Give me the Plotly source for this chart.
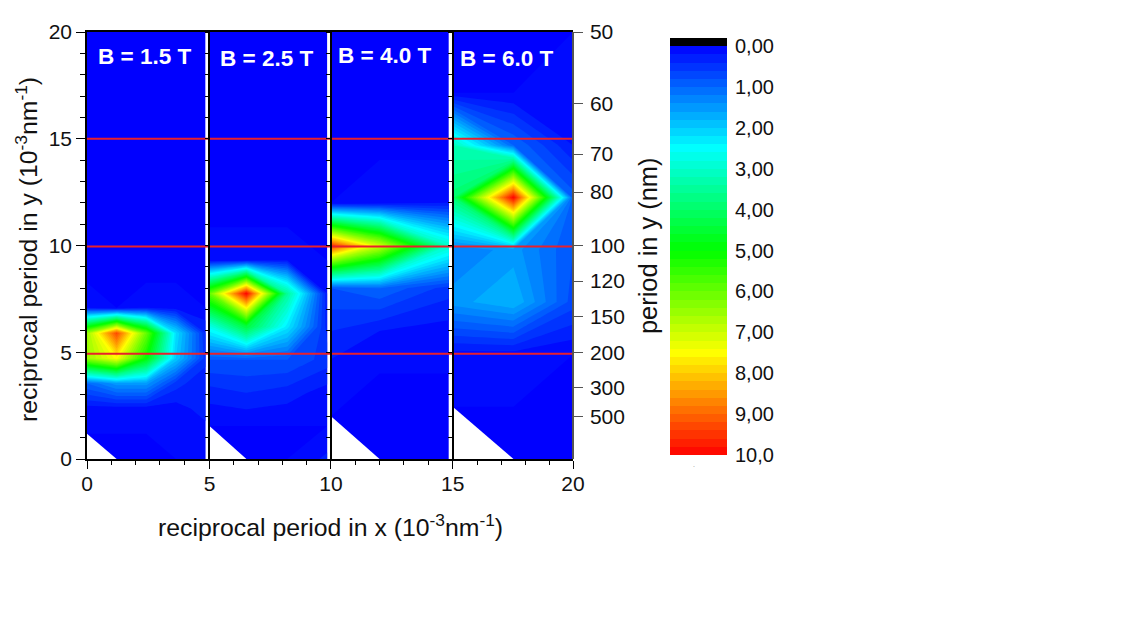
import numpy as np
import plotly.graph_objects as go

# Field values and panel labels
fields = ['B = 1.5 T', 'B = 2.5 T', 'B = 4.0 T', 'B = 6.0 T']

# Panel 1 (B = 1.5 T)
x1 = [0, 1.22, 2.44, 3.66, 4.88]
y1 = [0, 1.18, 2.36, 3.54, 4.72, 5.9, 7.08, 8.26, 20]
z1 = [
    [0, 0, 0, 0, 0],
    [0, 0, 0, 0.1, 0.1],
    [0.1, 0.1, 0.1, 0.1, 0.3],
    [1.0, 1.5, 1.5, 0.5, 0.2],
    [6.5, 7.5, 5.0, 2.0, 0.5],
    [6.5, 9.3, 6.0, 2.2, 0.4],
    [0.2, 0, 0.2, 0.1, 0],
    [0, 0, 0, 0, 0],
    [0, 0, 0, 0, 0],
]

# Panel 2 (B = 2.5 T)
x2 = [5.04, 6.56, 8.24, 9.89]
y2 = [0, 1.55, 3.1, 4.65, 6.2, 7.75, 9.3, 10.85, 20]
z2 = [
    [0, 0, 0, 0.25],
    [0, 0, 0, 0],
    [0.3, 0.4, 0.3, 0.1],
    [0.8, 0.8, 0.8, 0.5],
    [2.7, 4.4, 2.3, 0.3],
    [6.0, 10.0, 3.5, 0.2],
    [0.1, 0.2, 0.2, 0],
    [0, 0, 0, 0],
    [0, 0, 0, 0],
]

# Panel 3 (B = 4.0 T)
x3 = [10.04, 12.04, 14.89]
y3 = [0, 2, 4, 6, 8, 10, 12, 14, 20]
z3 = [
    [0, 0, 0],
    [0, 0, 0],
    [0.1, 0, 0],
    [0.4, 0.2, 0.1],
    [0.8, 1.0, 0.5],
    [9.5, 7.0, 3.0],
    [0, 0.1, 0.2],
    [0, 0, 0],
    [0, 0, 0],
]

# Panel 4 (B = 6.0 T)
x4 = [15.05, 17.55, 20.0]
y4 = [0, 2.45, 4.9, 7.35, 9.8, 12.25, 14.7, 17.15, 20]
z4 = [
    [0, 0, 0],
    [0, 0, 0],
    [0.1, 0.1, 0],
    [1.5, 1.8, 0.7],
    [1.2, 1.5, 0.8],
    [3.9, 10.0, 0.9],
    [3.2, 1.0, 0.2],
    [0, 0, 0.2],
    [0, 0, 0],
]

panels = [(x1, y1, z1), (x2, y2, z2), (x3, y3, z3), (x4, y4, z4)]

# Axis ticks
x_ticks = [0, 5.04, 10.04, 15.05, 20]
x_tick_labels = ['0', '5', '10', '15', '20']
x_minor = [1, 2, 3, 4, 6.04, 7.04, 8.04, 9.04, 11.04, 12.04, 13.04, 14.04, 16.05, 17.05, 18.05, 19.05]
periods = [50, 60, 70, 80, 100, 120, 150, 200, 300, 500]
red_levels = [4.93, 9.95, 15.0]

# Colour scale: blue, cyan, green, yellow, red over 0-10, in bands of 0.2
colors = [[0, 'rgb(0,0,255)'], [0.25, 'rgb(0,255,255)'], [0.5, 'rgb(0,255,0)'],
          [0.75, 'rgb(255,255,0)'], [1, 'rgb(255,0,0)']]
bar_ticks = [0, 1, 2, 3, 4, 5, 6, 7, 8, 9, 10]
bar_labels = ['0,00', '1,00', '2,00', '3,00', '4,00', '5,00', '6,00', '7,00', '8,00', '9,00', '10,0']
bar_bands = np.arange(-0.1, 10, 0.2)

# Page size and plot area in pixels
W, H = 1136, 627
dx = [87 / W, 573 / W]
dy = [1 - 459 / H, 1 - 32 / H]
FONT = 'Liberation Sans'
TEXT = '#111111'


def xpos(v):
    return dx[0] + (dx[1] - dx[0]) * v / 20


fig = go.Figure()

# One contour per panel, each on its own y axis
axis_names = ['y', 'y2', 'y3', 'y4']
for (px, py, pz), ax in zip(panels, axis_names):
    fig.add_trace(go.Contour(
        x=px, y=py, z=pz, xaxis='x', yaxis=ax,
        colorscale=colors, zmin=0, zmax=10, showscale=False,
        autocontour=False,
        contours=dict(start=0, end=10, size=0.2, coloring='fill', showlines=False),
        line=dict(width=0, smoothing=0),
    ))
    # Missing corner point leaves a white triangle
    fig.add_trace(go.Scatter(
        x=[px[0], px[1], px[0], px[0]], y=[0, 0, py[1], 0], xaxis='x', yaxis=ax,
        mode='lines', fill='toself', fillcolor='white', line=dict(width=0),
        showlegend=False, hoverinfo='skip',
    ))

# Red guide lines, on the period axis
line_x, line_y = [], []
for level in red_levels:
    line_x += [0, 20.12, None]
    line_y += [level, level, None]
fig.add_trace(go.Scatter(
    x=line_x, y=line_y, xaxis='x', yaxis='y5', mode='lines', cliponaxis=False,
    line=dict(color='rgb(232,32,44)', width=2), showlegend=False, hoverinfo='skip',
))

# Colour bar drawn as a one column heatmap, black band above zero
fig.add_trace(go.Heatmap(
    x=[0], y=bar_bands, z=[[v] for v in bar_bands], xaxis='x2', yaxis='y6',
    zmin=-0.2, zmax=10, showscale=False,
    colorscale=[[0, 'black'], [0.0196, 'black'], [0.0197, 'rgb(0,0,255)'], [0.0196 + 0.98 * 0.25, 'rgb(0,255,255)'],
                [0.0196 + 0.98 * 0.5, 'rgb(0,255,0)'], [0.0196 + 0.98 * 0.75, 'rgb(255,255,0)'], [1, 'rgb(255,0,0)']],
))

# Panel labels
label_x = [2.35, 7.37, 12.26, 17.27]
label_y = [18.83, 18.78, 18.88, 18.78]
for text, lx, ly in zip(fields, label_x, label_y):
    fig.add_annotation(x=lx, y=ly, xref='x', yref='y', text=f'<b>{text}</b>', showarrow=False,
                       font=dict(family=FONT, size=22.5, color='white'))

# Axis titles placed directly
fig.add_annotation(x=331 / W, y=1 - 525 / H, xref='paper', yref='paper', showarrow=False,
                   xanchor='center', yanchor='middle',
                   text='reciprocal period in x (10<sup>-3</sup>nm<sup>-1</sup>)', font=dict(family=FONT, size=24.8, color=TEXT))
fig.add_annotation(x=26 / W, y=1 - 250 / H, xref='paper', yref='paper', showarrow=False, textangle=-90,
                   xanchor='center', yanchor='middle',
                   text='reciprocal period in y (10<sup>-3</sup>nm<sup>-1</sup>)', font=dict(family=FONT, size=24.8, color=TEXT))
fig.add_annotation(x=648 / W, y=1 - 246 / H, xref='paper', yref='paper', showarrow=False, textangle=-90,
                   xanchor='center', yanchor='middle',
                   text='period in y (nm)', font=dict(family=FONT, size=25.4, color=TEXT))

# Tiny speck under the colour bar
fig.add_annotation(x=694 / W, y=1 - 464 / H, xref='paper', yref='paper', text='.', showarrow=False,
                   xanchor='center', yanchor='middle',
                   font=dict(family=FONT, size=7, color='#888888'))

inner_axis = dict(range=[0, 20], overlaying='y', anchor='free', side='left', showgrid=False, zeroline=False,
                  showline=True, linecolor='black', linewidth=1.5, ticks='outside', ticklen=4, tickwidth=1.2,
                  tickcolor='black', tick0=0, dtick=1, showticklabels=False, domain=dy)

fig.update_layout(
    width=W, height=H,
    margin=dict(l=0, r=0, t=0, b=0),
    paper_bgcolor='white', plot_bgcolor='white',
    showlegend=False,
    font=dict(family=FONT, size=21, color=TEXT),
    xaxis=dict(
        domain=dx, range=[0, 20], anchor='y', showgrid=False, zeroline=False,
        showline=True, linecolor='black', linewidth=1.5, mirror=True,
        tickmode='array', tickvals=x_ticks, ticktext=x_tick_labels,
        ticks='outside', ticklen=8, tickwidth=1.2, tickcolor='black',
        minor=dict(tickmode='array', tickvals=x_minor, ticks='outside', ticklen=4, tickwidth=1.2, tickcolor='black'),
        tickfont=dict(size=21), ticklabelstandoff=-3, automargin=False,
    ),
    yaxis=dict(
        domain=dy, range=[0, 20], anchor='x', showgrid=False, zeroline=False,
        showline=True, linecolor='black', linewidth=1.5,
        tick0=0, dtick=5, ticks='outside', ticklen=9, tickwidth=1.2, tickcolor='black',
        minor=dict(tick0=0, dtick=1, ticks='outside', ticklen=5, tickwidth=1.2, tickcolor='black'),
        tickfont=dict(size=21), automargin=False,
    ),
    yaxis2=dict(inner_axis, position=xpos(x_ticks[1])),
    yaxis3=dict(inner_axis, position=xpos(x_ticks[2])),
    yaxis4=dict(inner_axis, position=xpos(x_ticks[3])),
    yaxis5=dict(
        domain=dy, range=[0, 20], overlaying='y', anchor='free', position=dx[1], side='right',
        showgrid=False, zeroline=False, showline=True, linecolor='#555555', linewidth=1.5,
        tickmode='array', tickvals=[1000 / p for p in periods], ticktext=[str(p) for p in periods],
        ticks='outside', ticklen=9, tickwidth=1.2, tickcolor='#555555',
        tickfont=dict(size=21), ticklabelstandoff=3, automargin=False,
    ),
    xaxis2=dict(domain=[670 / W, 727 / W], anchor='y6', visible=False),
    yaxis6=dict(
        domain=[1 - 455 / H, 1 - 38 / H], range=[10, -0.2], anchor='x2', side='right',
        showgrid=False, zeroline=False, showline=False,
        tickmode='array', tickvals=bar_ticks, ticktext=bar_labels, ticks='', tickfont=dict(size=20),
        ticklabelstandoff=7, automargin=False,
    ),
)

# Drop the browser's default page margin so pixel positions hold
fig.write_html("out.html", config=dict(displayModeBar=False), post_script="document.body.style.margin='0';")
